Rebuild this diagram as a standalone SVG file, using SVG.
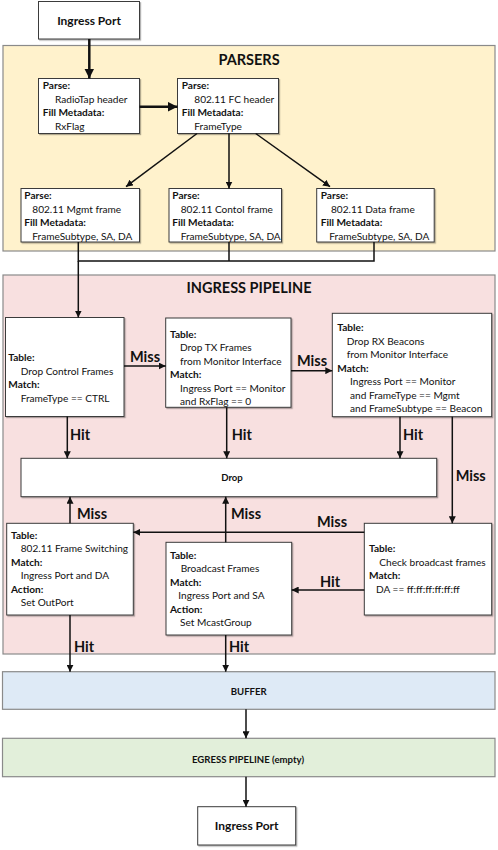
<svg xmlns="http://www.w3.org/2000/svg" width="498" height="850" viewBox="0 0 498 850">
<style>
text{font-family:Lato,"Open Sans","Liberation Sans",sans-serif;fill:#111}
.s{font-size:10.1px}
.b{font-weight:bold}
.t{font-size:14.5px;font-weight:bold}
.l{font-size:14.5px;font-weight:bold}
.p{font-size:12px;font-weight:bold}
.m{font-size:9.6px;font-weight:bold}
.box{fill:#fff;stroke:#3a3a3a;stroke-width:1;filter:url(#sh)}
.cont{stroke:#8a8a8a;stroke-width:1.2}
.c{fill:none;stroke:#111;stroke-width:1.5}
.k{fill:none;stroke:#111;stroke-width:2.5}
.mid{text-anchor:middle}
</style>
<defs>
<filter id="sh" x="-5%" y="-5%" width="115%" height="120%">
<feDropShadow dx="1.2" dy="1.2" stdDeviation="0.7" flood-color="#000" flood-opacity="0.3"/>
</filter>
<marker id="a" viewBox="0 0 10 10" refX="10" refY="5" markerWidth="7" markerHeight="7" markerUnits="userSpaceOnUse" orient="auto">
<path d="M0,0L10,5L0,10z" fill="#111"/>
</marker>
<marker id="A" viewBox="0 0 10 10" refX="10" refY="5" markerWidth="10" markerHeight="10" markerUnits="userSpaceOnUse" orient="auto">
<path d="M0,0L10,5L0,10z" fill="#111"/>
</marker>
</defs>

<g id="parsers">
<rect class="cont" x="3" y="45.5" width="492" height="205.5" fill="#FFF2CC"/>
<text class="t mid" x="249" y="64.5">PARSERS</text>
</g>
<g id="ingress-pipeline">
<rect class="cont" x="3" y="275" width="492" height="379" fill="#F8E0E0"/>
<text class="t mid" x="249" y="292.5">INGRESS PIPELINE</text>
</g>

<g id="ingress-port-in">
<rect class="box" x="38.5" y="1.5" width="101" height="37.5"/>
<text class="p mid" x="89" y="25">Ingress Port</text>
</g>

<g id="parse-radiotap">
<rect class="box" x="38.5" y="78.5" width="101" height="55"/>
<text class="s b" x="42.7" y="89">Parse:</text>
<text class="s" x="55" y="102.5">RadioTap header</text>
<text class="s b" x="42.7" y="116">Fill Metadata:</text>
<text class="s" x="55" y="129.5">RxFlag</text>
</g>

<g id="parse-fc">
<rect class="box" x="177.5" y="78.5" width="101" height="55"/>
<text class="s b" x="181.7" y="89">Parse:</text>
<text class="s" x="194.3" y="102.5">802.11 FC header</text>
<text class="s b" x="181.7" y="116">Fill Metadata:</text>
<text class="s" x="194.3" y="129.5">FrameType</text>
</g>

<g id="parse-mgmt">
<rect class="box" x="21" y="188.5" width="118.5" height="53.5"/>
<text class="s b" x="24.3" y="199">Parse:</text>
<text class="s" x="32.3" y="212.5">802.11 Mgmt frame</text>
<text class="s b" x="24.3" y="226">Fill Metadata:</text>
<text class="s" x="32.3" y="239.5">FrameSubtype, SA, DA</text>
</g>

<g id="parse-control">
<rect class="box" x="169" y="188.5" width="112.5" height="53.5"/>
<text class="s b" x="172.3" y="199">Parse:</text>
<text class="s" x="180.7" y="212.5">802.11 Contol frame</text>
<text class="s b" x="172.3" y="226">Fill Metadata:</text>
<text class="s" x="180.7" y="239.5">FrameSubtype, SA, DA</text>
</g>

<g id="parse-data">
<rect class="box" x="316.7" y="188.5" width="117.5" height="53.5"/>
<text class="s b" x="320.7" y="199">Parse:</text>
<text class="s" x="331" y="212.5">802.11 Data frame</text>
<text class="s b" x="320.7" y="226">Fill Metadata:</text>
<text class="s" x="329.3" y="239.5">FrameSubtype, SA, DA</text>
</g>

<g id="drop-control">
<rect class="box" x="5.5" y="317.5" width="118.5" height="99"/>
<text class="s b" x="8.3" y="361">Table:</text>
<text class="s" x="20.7" y="374.5">Drop Control Frames</text>
<text class="s b" x="8.3" y="388">Match:</text>
<text class="s" x="20.7" y="401.5">FrameType == CTRL</text>
</g>

<g id="drop-tx">
<rect class="box" x="165.7" y="318" width="125.3" height="89.3"/>
<text class="s b" x="170" y="338">Table:</text>
<text class="s" x="180" y="351.4">Drop TX Frames</text>
<text class="s" x="180" y="364.8">from Monitor Interface</text>
<text class="s b" x="170" y="378.2">Match:</text>
<text class="s" x="180" y="391.6">Ingress Port == Monitor</text>
<text class="s" x="180" y="405">and RxFlag == 0</text>
</g>

<g id="drop-rx">
<rect class="box" x="332.3" y="313.3" width="159.4" height="103.4"/>
<text class="s b" x="337.3" y="331">Table:</text>
<text class="s" x="346.7" y="344.5">Drop RX Beacons</text>
<text class="s" x="346.7" y="358">from Monitor Interface</text>
<text class="s b" x="337.3" y="371.5">Match:</text>
<text class="s" x="350" y="385">Ingress Port == Monitor</text>
<text class="s" x="350" y="398.5">and FrameType == Mgmt</text>
<text class="s" x="350" y="412">and FrameSubtype == Beacon</text>
</g>

<g id="drop">
<rect class="box" x="21" y="458.3" width="415.7" height="38.4"/>
<text class="m mid" x="232" y="480.5">Drop</text>
</g>

<g id="frame-switching">
<rect class="box" x="6.7" y="523.3" width="126.6" height="91.7"/>
<text class="s b" x="11" y="538.5">Table:</text>
<text class="s" x="20.7" y="552">802.11 Frame Switching</text>
<text class="s b" x="11" y="565.5">Match:</text>
<text class="s" x="20.7" y="579">Ingress Port and DA</text>
<text class="s b" x="11" y="592.5">Action:</text>
<text class="s" x="20.7" y="606">Set OutPort</text>
</g>

<g id="broadcast-frames">
<rect class="box" x="166" y="542.3" width="125.7" height="92.7"/>
<text class="s b" x="170" y="558.5">Table:</text>
<text class="s" x="180.7" y="572">Broadcast Frames</text>
<text class="s b" x="170" y="585.5">Match:</text>
<text class="s" x="178.3" y="599">Ingress Port and SA</text>
<text class="s b" x="170" y="612.5">Action:</text>
<text class="s" x="180" y="626">Set McastGroup</text>
</g>

<g id="check-broadcast">
<rect class="box" x="364.3" y="523.3" width="127.4" height="91.7"/>
<text class="s b" x="369" y="552">Table:</text>
<text class="s" x="379.3" y="565.5">Check broadcast frames</text>
<text class="s b" x="369" y="579">Match:</text>
<text class="s" x="376" y="592.5">DA == ff:ff:ff:ff:ff:ff</text>
</g>

<g id="buffer">
<rect class="cont" x="2.5" y="671.7" width="492.5" height="37.6" fill="#DEEAF6"/>
<text class="m mid" x="248.7" y="694.5">BUFFER</text>
</g>

<g id="egress-pipeline">
<rect class="cont" x="2.5" y="738.3" width="492.5" height="38.4" fill="#E2EFDA"/>
<text class="m mid" x="248" y="762.5">EGRESS PIPELINE (empty)</text>
</g>

<g id="ingress-port-out">
<rect class="box" x="197.7" y="806.7" width="98" height="38.3"/>
<text class="p mid" x="246.7" y="830">Ingress Port</text>
</g>

<g id="connectors">
<path class="k" d="M89.3,39 V78.5" marker-end="url(#A)"/>
<path class="k" d="M139.5,106.7 H177.5" marker-end="url(#A)"/>
<path class="c" d="M197,133.5 L126,186.7" marker-end="url(#a)"/>
<path class="c" d="M229,133.5 V188.5" marker-end="url(#a)"/>
<path class="c" d="M255.7,133.5 L330,186.7" marker-end="url(#a)"/>
<path class="c" stroke-width="2" d="M78.3,242 V261 H374 V242 M229,242 V261"/>
<path class="c" d="M78.3,261 V317.5" marker-end="url(#a)"/>
<path class="c" d="M124,366 H165.7" marker-end="url(#a)"/>
<path class="c" d="M291,370.7 H332.3" marker-end="url(#a)"/>
<path class="c" d="M67.3,416.5 V458.3" marker-end="url(#a)"/>
<path class="c" d="M226.7,407.3 V458.3" marker-end="url(#a)"/>
<path class="c" d="M400,416.7 V458.3" marker-end="url(#a)"/>
<path class="c" d="M452.3,416.7 V523.3" marker-end="url(#a)"/>
<path class="c" d="M70,523.3 V496.7" marker-end="url(#a)"/>
<path class="c" d="M225.7,542.3 V496.7" marker-end="url(#a)"/>
<path class="c" d="M364.3,532.3 H133.3" marker-end="url(#a)"/>
<path class="c" d="M364.3,590 H291.7" marker-end="url(#a)"/>
<path class="c" d="M70,615 V671.7" marker-end="url(#a)"/>
<path class="c" d="M225.7,635 V671.7" marker-end="url(#a)"/>
<path class="c" d="M246,709.3 V738.3" marker-end="url(#a)"/>
<path class="c" d="M246,776.7 V806.7" marker-end="url(#a)"/>
<text class="l mid" x="145" y="362">Miss</text>
<text class="l mid" x="312" y="366">Miss</text>
<text class="l" x="70" y="440">Hit</text>
<text class="l" x="231.7" y="440">Hit</text>
<text class="l" x="403" y="440">Hit</text>
<text class="l" x="455.7" y="481">Miss</text>
<text class="l" x="77" y="519">Miss</text>
<text class="l" x="231" y="519">Miss</text>
<text class="l mid" x="332" y="526.5">Miss</text>
<text class="l mid" x="330" y="586.5">Hit</text>
<text class="l" x="74" y="652.3">Hit</text>
<text class="l" x="229" y="652.3">Hit</text>
</g>
</svg>
